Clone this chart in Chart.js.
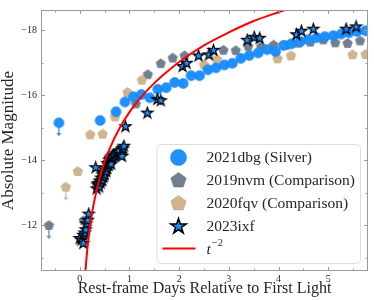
<!DOCTYPE html>
<html>
<head>
<meta charset="utf-8">
<script src="https://cdn.jsdelivr.net/npm/chart.js@4.4.0/dist/chart.umd.min.js"></script>
<style>
html, body { margin: 0; padding: 0; background: #fff; }
#wrap { width: 374px; height: 300px; }
</style>
</head>
<body>
<div id="wrap"><canvas id="chartRise"></canvas></div>
<script>
'use strict'

// 2021dbg (Silver)
const dbgDays = [0.41, 0.73, 0.91, 1.08, 1.24, 1.41, 1.57, 1.74, 1.91, 2.08, 2.24, 2.41, 2.58, 2.74, 2.91, 3.07, 3.24, 3.41, 3.59, 3.77, 3.94, 4.1, 4.26, 4.44, 4.6, 4.77, 4.93, 5.1, 5.26, 5.42, 5.58, 5.75];
const dbgMags = [-15.22, -15.49, -15.79, -15.95, -16.02, -15.92, -16.18, -16.23, -16.39, -16.36, -16.6, -16.6, -16.78, -16.84, -16.93, -16.98, -17.13, -17.22, -17.3, -17.4, -17.34, -17.53, -17.58, -17.65, -17.71, -17.77, -17.8, -17.83, -17.88, -17.92, -17.96, -17.98];

// 2019nvm (Comparison)
const nvmDays = [0.08, 0.58, 1.13, 1.37, 1.63, 1.87, 2.11, 2.89, 3.14, 3.39, 3.65, 3.9, 4.15, 4.4, 4.64, 4.9, 5.14, 5.39, 5.64];
const nvmMags = [-12.14, -14.1, -15.73, -16.63, -16.97, -17.14, -17.21, -17.38, -17.37, -17.5, -17.49, -17.54, -17.53, -17.6, -17.63, -17.7, -17.61, -17.59, -17.67];

// 2020fqv (Comparison)
const fqvDays = [-0.04, 0.21, 0.46, 0.71, 0.96, 1.25, 2.5, 2.76, 3.98, 4.25, 5.49, 5.75];
const fqvMags = [-13.65, -14.78, -14.8, -15.33, -16.08, -16.46, -16.93, -17.1, -17.12, -17.21, -17.24, -17.25];

// 2023ixf
const ixfDays = [0.0, 0.03, 0.07, 0.07, 0.1, 0.12, 0.13, 0.16, 0.18,
	0.32, 0.34, 0.36, 0.37, 0.39, 0.4, 0.42, 0.43, 0.45, 0.46, 0.47, 0.48, 0.5, 0.51, 0.53, 0.55, 0.56, 0.58, 0.59, 0.6, 0.62, 0.63, 0.64, 0.66, 0.68, 0.7, 0.73, 0.76, 0.79, 0.82, 0.85, 0.87, 0.89,
	0.92, 1.36, 1.56, 1.63, 2.07, 2.15, 2.39, 2.6, 2.69, 3.37, 3.51, 3.62, 4.36, 4.46, 4.7, 5.36, 5.56];
const ixfMags = [-11.59, -11.54, -11.44, -11.69, -11.76, -11.86, -12.04, -12.15, -12.34,
	-13.77, -13.12, -13.24, -13.28, -13.18, -13.36, -13.3, -13.45, -13.38, -13.55, -13.62, -13.48, -13.55, -13.7, -13.65, -13.75, -13.9, -13.84, -14.0, -13.92, -14.02, -13.88, -14.05, -14.08, -14.15, -14.14, -14.2, -14.25, -14.28, -14.17, -14.12, -14.35, -14.43,
	-15.03, -15.45, -15.87, -15.83, -16.88, -16.98, -17.21, -17.24, -17.38, -17.69, -17.78, -17.75, -17.86, -17.97, -18.03, -18.03, -18.1];

// first points of dbg, nvm, fqv are upper limits
const limitDays = [-0.42, -0.62, -0.28];
const limitMags = [-15.15, -11.99, -13.17];

// t^-2 curve
const fitDays = [0.1, 0.114, 0.14, 0.17, 0.2, 0.25, 0.3, 0.4, 0.5, 0.6, 0.8, 1.0, 1.25, 1.5, 1.75, 2.0, 2.5, 3.0, 3.5, 4.0, 4.3];
const fitMags = [-10.3, -10.59, -11.07, -11.52, -11.9, -12.4, -12.8, -13.45, -13.95, -14.35, -14.98, -15.48, -15.97, -16.37, -16.71, -17.02, -17.53, -17.93, -18.28, -18.55, -18.7];

const legendLabels = ['2021dbg (Silver)', '2019nvm (Comparison)', '2020fqv (Comparison)', '2023ixf', 't'];

const colors = {
	blue: '#1E90FF',
	blueEdge: '#1a7ee0',
	slate: '#708090',
	slateEdge: '#62707e',
	tan: '#D2B48C',
	tanEdge: '#b89c78',
	red: '#FF0000',
	frame: '#9a9a9a',
	text: '#262626',
};
const serif = '"Liberation Serif", "DejaVu Serif", serif';

function makeMarker(shape, size, fill, edge, lw){
	const c = document.createElement('canvas');
	const s = Math.ceil(size + lw * 2 + 1);
	c.width = s;
	c.height = s;
	const g = c.getContext('2d');
	const r = size / 2, cx = s / 2, cy = s / 2;
	g.beginPath();
	if(shape === 'circle'){
		g.arc(cx, cy, r, 0, Math.PI * 2);
	}
	else {
		const n = shape === 'star' ? 10 : 5;
		for(let i = 0; i < n; i++){
			const rr = shape === 'star' && i % 2 ? r * 0.382 : r;
			const ang = -Math.PI / 2 + i * Math.PI * 2 / n;
			const px = cx + rr * Math.cos(ang), py = cy + rr * Math.sin(ang);
			if(i) g.lineTo(px, py);
			else g.moveTo(px, py);
		}
		g.closePath();
	}
	g.fillStyle = fill;
	g.fill();
	if(lw){
		g.strokeStyle = edge;
		g.lineWidth = lw;
		g.lineJoin = 'miter';
		g.stroke();
	}
	return c;
}

const markers = {
	circle: makeMarker('circle', 10, colors.blue, colors.blueEdge, 0.6),
	slate: makeMarker('pentagon', 10, colors.slate, colors.slateEdge, 0.6),
	tan: makeMarker('pentagon', 10, colors.tan, colors.tanEdge, 0.6),
	star: makeMarker('star', 11.5, colors.blue, '#000', 1.2),
};
const legendMarkers = [
	makeMarker('circle', 16, colors.blue, colors.blueEdge, 0.6),
	makeMarker('pentagon', 16, colors.slate, colors.slateEdge, 0.6),
	makeMarker('pentagon', 16, colors.tan, colors.tanEdge, 0.6),
	makeMarker('star', 16, colors.blue, '#000', 1.6),
];
const limitColors = [colors.blue, colors.slate, colors.tan];

function toPoints(days, mags){
	return days.map((d, i) => ({x: d, y: mags[i]}));
}

// upper-limit arrows, drawn under the markers
const limitArrows = {
	id: 'limitArrows',
	beforeDatasetsDraw(chart){
		const {ctx, scales: {x, y}} = chart;
		ctx.save();
		limitDays.forEach((d, i) => {
			const px = x.getPixelForValue(d);
			const py0 = y.getPixelForValue(limitMags[i]);
			const py1 = y.getPixelForValue(limitMags[i] + 0.42);
			ctx.strokeStyle = limitColors[i];
			ctx.fillStyle = limitColors[i];
			ctx.globalAlpha = 0.85;
			ctx.lineWidth = 1.4;
			ctx.beginPath();
			ctx.moveTo(px, py0);
			ctx.lineTo(px, py1 - 3);
			ctx.stroke();
			ctx.beginPath();
			ctx.moveTo(px - 2.6, py1 - 3.5);
			ctx.lineTo(px + 2.6, py1 - 3.5);
			ctx.lineTo(px, py1);
			ctx.closePath();
			ctx.fill();
		});
		ctx.restore();
	},
};

// boxed legend in the lower right of the axes
const boxLegend = {
	id: 'boxLegend',
	afterDatasetsDraw(chart){
		const {ctx, chartArea: a} = chart;
		const font = '15.5px ' + serif;
		ctx.save();
		ctx.font = font;
		const textW = Math.max(...legendLabels.map(t => ctx.measureText(t).width));
		const w = 50 + textW + 5;
		const h = 119;
		const left = a.right - 8 - w;
		const top = a.bottom - 8 - h;
		ctx.beginPath();
		ctx.roundRect(left + 0.5, top + 0.5, w, h, 4);
		ctx.fillStyle = 'rgba(255,255,255,0.85)';
		ctx.fill();
		ctx.strokeStyle = '#dddddd';
		ctx.lineWidth = 1;
		ctx.stroke();

		const mx = left + 22;
		const tx = left + 50;
		ctx.textBaseline = 'middle';
		legendLabels.forEach((label, i) => {
			const cy = top + 13.5 + i * 23;
			if(i < 4){
				const m = legendMarkers[i];
				ctx.drawImage(m, mx - m.width / 2, cy - m.height / 2);
				ctx.fillStyle = colors.text;
				ctx.font = font;
				ctx.fillText(label, tx, cy);
			}
			else {
				ctx.strokeStyle = colors.red;
				ctx.lineWidth = 2;
				ctx.beginPath();
				ctx.moveTo(mx - 16, cy - 1);
				ctx.lineTo(mx + 17, cy - 1);
				ctx.stroke();
				ctx.fillStyle = colors.text;
				ctx.font = 'italic ' + font;
				ctx.fillText(label, tx, cy);
				const tw = ctx.measureText(label).width;
				ctx.font = '10.5px ' + serif;
				ctx.fillText('\u22122', tx + tw + 1, cy - 6);
			}
		});
		ctx.restore();
	},
};

// frame with inward ticks on all four sides
const frameTicks = {
	id: 'frameTicks',
	afterDraw(chart){
		const {ctx, chartArea: a, scales: {x, y}} = chart;
		ctx.save();
		ctx.strokeStyle = colors.frame;
		ctx.lineWidth = 1;
		ctx.strokeRect(a.left + 0.5, a.top + 0.5, a.right - a.left - 1, a.bottom - a.top - 1);
		ctx.beginPath();
		x.ticks.forEach(t => {
			if(t.value < x.min || t.value > x.max) return;
			const px = Math.round(x.getPixelForValue(t.value)) + 0.5;
			const len = Number.isInteger(t.value) ? 4 : 2.5;
			ctx.moveTo(px, a.bottom);
			ctx.lineTo(px, a.bottom - len);
			ctx.moveTo(px, a.top);
			ctx.lineTo(px, a.top + len);
		});
		y.ticks.forEach(t => {
			if(t.value < y.min || t.value > y.max) return;
			const py = Math.round(y.getPixelForValue(t.value)) + 0.5;
			const len = t.value % 2 === 0 ? 4 : 2.5;
			ctx.moveTo(a.left, py);
			ctx.lineTo(a.left + len, py);
			ctx.moveTo(a.right, py);
			ctx.lineTo(a.right - len, py);
		});
		ctx.stroke();
		ctx.restore();
	},
};

const tickFont = {family: serif, size: 10};

new Chart(document.getElementById('chartRise'), {
	type: 'scatter',
	data: {
		datasets: [
			{
				label: 't^-2',
				data: toPoints(fitDays, fitMags),
				showLine: true,
				borderColor: colors.red,
				borderWidth: 2,
				pointRadius: 0,
				cubicInterpolationMode: 'monotone',
				clip: 0,
				order: 0,
			},
			{
				label: '2023ixf',
				data: toPoints(ixfDays, ixfMags),
				pointStyle: markers.star,
				pointRadius: 5,
				clip: 0,
				order: 1,
			},
			{
				label: '2021dbg (Silver)',
				data: toPoints([limitDays[0]].concat(dbgDays), [limitMags[0]].concat(dbgMags)),
				pointStyle: markers.circle,
				pointRadius: 5,
				clip: 0,
				order: 2,
			},
			{
				label: '2020fqv (Comparison)',
				data: toPoints([limitDays[2]].concat(fqvDays), [limitMags[2]].concat(fqvMags)),
				pointStyle: markers.tan,
				pointRadius: 5,
				clip: 0,
				order: 3,
			},
			{
				label: '2019nvm (Comparison)',
				data: toPoints([limitDays[1]].concat(nvmDays), [limitMags[1]].concat(nvmMags)),
				pointStyle: markers.slate,
				pointRadius: 5,
				clip: 0,
				order: 4,
			},
		],
	},
	options: {
		responsive: true,
		maintainAspectRatio: false,
		animation: false,
		layout: {
			padding: {top: 3, right: 3, left: 0, bottom: 0},
		},
		plugins: {
			legend: {display: false},
			tooltip: {enabled: false},
		},
		scales: {
			x: {
				type: 'linear',
				min: -0.78,
				max: 5.8,
				grid: {display: false, drawTicks: false},
				border: {display: false},
				ticks: {
					stepSize: 0.5,
					includeBounds: false,
					autoSkip: false,
					maxRotation: 0,
					padding: 2,
					font: tickFont,
					color: colors.text,
					callback: v => Number.isInteger(v) ? String(v) : '',
				},
				title: {
					display: true,
					text: 'Rest-frame Days Relative to First Light',
					font: {family: serif, size: 16, lineHeight: 1.2},
					color: colors.text,
					padding: {top: 0, bottom: 2},
				},
				afterFit: s => { s.height = 29 },
			},
			y: {
				type: 'linear',
				reverse: true,
				min: -18.62,
				max: -10.59,
				grid: {display: false, drawTicks: false},
				border: {display: false},
				ticks: {
					stepSize: 1,
					includeBounds: false,
					autoSkip: false,
					padding: 4,
					font: tickFont,
					color: colors.text,
					callback: v => v % 2 === 0 ? '\u2212' + Math.abs(v) : '',
				},
				title: {
					display: true,
					text: 'Absolute Magnitude',
					font: {family: serif, size: 17, lineHeight: 1.0},
					color: colors.text,
					padding: {top: 0, bottom: 0},
				},
				afterFit: s => { s.width = 41 },
			},
		},
	},
	plugins: [limitArrows, boxLegend, frameTicks],
});
</script>
</body>
</html>
